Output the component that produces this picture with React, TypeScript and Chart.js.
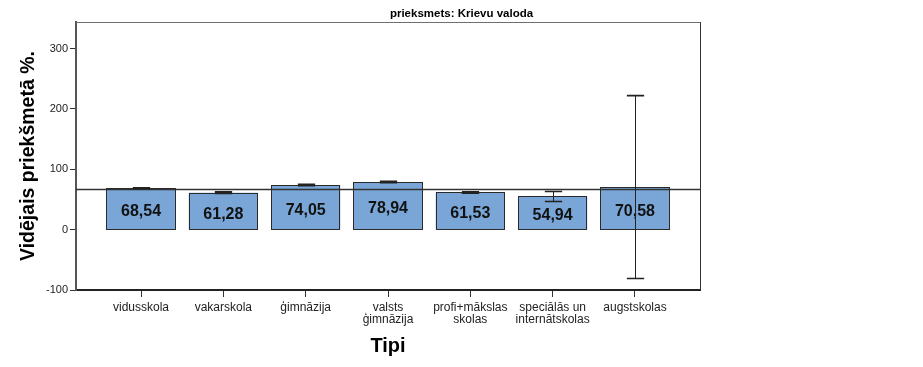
import React, { useEffect, useRef } from "react";
import { Chart, registerables } from "chart.js";

Chart.register(...registerables);

const chartTitle = "prieksmets: Krievu valoda";
const yAxisTitle = "Vidējais priekšmetā %.";
const xAxisTitle = "Tipi";
const categories: string[][] = [
  ["vidusskola"],
  ["vakarskola"],
  ["ģimnāzija"],
  ["valsts", "ģimnāzija"],
  ["profi+mākslas", "skolas"],
  ["speciālās un", "internātskolas"],
  ["augstskolas"],
];
const means = [68.54, 61.28, 74.05, 78.94, 61.53, 54.94, 70.58];
const meanLabels = ["68,54", "61,28", "74,05", "78,94", "61,53", "54,94", "70,58"];
const errLower = [67.8, 59.9, 73.0, 77.9, 60.5, 46.6, -81];
const errUpper = [69.3, 62.6, 75.1, 80.0, 62.6, 63.3, 222];
const overallMean = 67.0;
const yMin = -100;
const yMax = 344;

const overlayPlugin = {
  id: "overlay",
  afterDatasetsDraw(chart: any) {
    const { ctx, chartArea, scales } = chart;
    const ys = scales.y;
    const meta = chart.getDatasetMeta(0);
    ctx.save();
    // frame top + right
    ctx.strokeStyle = "#6f6f6f";
    ctx.lineWidth = 1;
    ctx.beginPath();
    ctx.moveTo(chartArea.left, chartArea.top + 0.5);
    ctx.lineTo(chartArea.right, chartArea.top + 0.5);
    ctx.stroke();
    ctx.strokeStyle = "#333";
    ctx.beginPath();
    ctx.moveTo(chartArea.right + 0.5, chartArea.top);
    ctx.lineTo(chartArea.right + 0.5, chartArea.bottom);
    ctx.stroke();

    // bar outlines
    ctx.strokeStyle = "#2a2a2a";
    ctx.lineWidth = 1;
    means.forEach((v, i) => {
      const bar = meta.data[i];
      const l = Math.round(bar.x - bar.width / 2) + 0.5;
      const r = Math.round(bar.x + bar.width / 2) - 0.5;
      const t = Math.round(ys.getPixelForValue(v)) + 0.5;
      const b = Math.round(ys.getPixelForValue(0)) - 0.5;
      ctx.strokeRect(l, t, r - l, b - t);
    });

    // labels inside bars
    ctx.fillStyle = "#111";
    ctx.font = "bold 16px 'Liberation Sans', Arial, sans-serif";
    ctx.textAlign = "center";
    ctx.textBaseline = "middle";
    means.forEach((v, i) => {
      const bar = meta.data[i];
      const yc = (ys.getPixelForValue(v) + ys.getPixelForValue(0)) / 2 + 3;
      ctx.fillText(meanLabels[i], bar.x, yc);
    });

    // overall mean reference line
    const ym = Math.round(ys.getPixelForValue(overallMean)) + 0.5;
    ctx.strokeStyle = "#333";
    ctx.lineWidth = 1.5;
    ctx.beginPath();
    ctx.moveTo(chartArea.left, ym);
    ctx.lineTo(chartArea.right, ym);
    ctx.stroke();

    // error bars
    ctx.strokeStyle = "#222";
    ctx.lineWidth = 1;
    means.forEach((_, i) => {
      const bar = meta.data[i];
      const x = Math.round(bar.x) + 0.5;
      const yl = ys.getPixelForValue(errLower[i]);
      const yu = ys.getPixelForValue(errUpper[i]);
      const cap = bar.width * 0.125;
      ctx.beginPath();
      ctx.moveTo(x, yl);
      ctx.lineTo(x, yu);
      ctx.stroke();
      ctx.lineWidth = 1.6;
      ctx.beginPath();
      ctx.moveTo(x - cap, yl);
      ctx.lineTo(x + cap, yl);
      ctx.moveTo(x - cap, yu);
      ctx.lineTo(x + cap, yu);
      ctx.stroke();
      ctx.lineWidth = 1;
    });

    // chart title
    ctx.fillStyle = "#000";
    ctx.font = "bold 11.5px 'Liberation Sans', Arial, sans-serif";
    ctx.textAlign = "center";
    ctx.textBaseline = "middle";
    ctx.fillText(chartTitle, chart.width / 2, 14);
    ctx.restore();
  },
};

export default function App() {
  const ref = useRef<HTMLCanvasElement | null>(null);
  useEffect(() => {
    document.body.style.margin = "0";
    const canvas = ref.current;
    if (!canvas) return;
    const chart = new Chart(canvas, {
      type: "bar",
      data: {
        datasets: [
          {
            data: means.map((v, i) => ({ x: i, y: v })),
            backgroundColor: "#7aa6d7",
            borderWidth: 0,
            barPercentage: 0.84,
            categoryPercentage: 1,
          },
        ],
      },
      options: {
        animation: false,
        responsive: false,
        devicePixelRatio: 1,
        layout: { padding: { left: 0, right: 223, top: 22, bottom: 0 } },
        plugins: {
          legend: { display: false },
          tooltip: { enabled: false },
          title: { display: false },
        },
        scales: {
          x: {
            type: "linear",
            min: -0.79,
            max: 6.79,
            offset: false,
            afterFit: (s: any) => {
              s.height = 77;
            },
            ticks: {
              stepSize: 1,
              includeBounds: false,
              autoSkip: false,
              maxRotation: 0,
              padding: 4,
              color: "#222",
              font: { family: "'Liberation Sans', Arial, sans-serif", size: 12, lineHeight: 1.05 },
              callback: (v: any) => categories[v as number] ?? "",
            },
            grid: {
              display: true,
              drawOnChartArea: false,
              drawTicks: true,
              tickLength: 7,
              color: "#333",
              offset: false,
            },
            border: { display: true, color: "#222", width: 2 },
            title: {
              display: true,
              text: xAxisTitle,
              color: "#000",
              font: { family: "'Liberation Sans', Arial, sans-serif", size: 20, weight: "bold" },
              padding: { top: 0, bottom: 9 },
            },
          },
          y: {
            min: yMin,
            max: yMax,
            afterFit: (s: any) => {
              s.width = 76;
            },
            ticks: {
              stepSize: 100,
              includeBounds: false,
              padding: 2,
              color: "#222",
              font: { family: "'Liberation Sans', Arial, sans-serif", size: 11 },
            },
            grid: {
              display: true,
              drawOnChartArea: false,
              drawTicks: true,
              tickLength: 6,
              color: "#333",
            },
            border: { display: true, color: "#555", width: 2 },
            title: {
              display: true,
              text: yAxisTitle,
              color: "#000",
              font: { family: "'Liberation Sans', Arial, sans-serif", size: 19.5, weight: "bold" },
              padding: { top: 17, bottom: 0 },
            },
          },
        },
      },
      plugins: [overlayPlugin],
    } as any);
    return () => chart.destroy();
  }, []);
  return (
    <div style={{ width: 923, height: 367, background: "#fff" }}>
      <canvas ref={ref} width={923} height={367} style={{ display: "block" }} />
    </div>
  );
}
